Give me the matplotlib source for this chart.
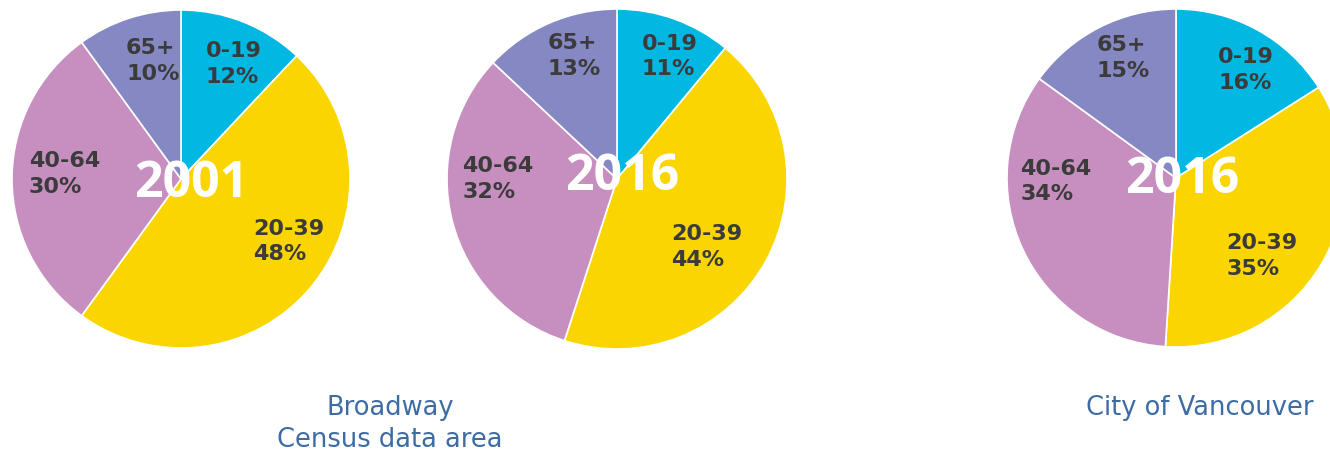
import matplotlib
matplotlib.use("Agg")
import matplotlib.pyplot as plt

# data
age_groups = ["0-19", "20-39", "40-64", "65+"]
broadway_2001 = [12, 48, 30, 10]
broadway_2016 = [11, 44, 32, 13]
vancouver_2016 = [16, 35, 34, 15]
years = ["2001", "2016", "2016"]
captions = ["Broadway\nCensus data area", "City of Vancouver"]

colors = ["#00B8E1", "#FAD500", "#C78FC0", "#8588C3"]
label_color = "#3B3B3B"
caption_color = "#3D6CA5"

W, H = 1330, 454
fig = plt.figure(figsize=(W / 100, H / 100), dpi=100)
fig.patch.set_facecolor("white")

# layout (pixels): pie centre and radius, label left/centre offsets in radius units
pies = [
    dict(values=broadway_2001, cx=181, cy=179, r=169,
         labels=[(0.145, 0.68), (0.425, -0.37), (-0.90, 0.03), (-0.325, 0.70)],
         year_pos=(0.06, -0.03)),
    dict(values=broadway_2016, cx=617, cy=179, r=170,
         labels=[(0.145, 0.72), (0.32, -0.40), (-0.91, 0.0), (-0.41, 0.725)],
         year_pos=(0.03, 0.01)),
    dict(values=vancouver_2016, cx=1176, cy=178, r=169,
         labels=[(0.25, 0.64), (0.30, -0.46), (-0.92, -0.02), (-0.47, 0.71)],
         year_pos=(0.035, -0.01)),
]

for p, year in zip(pies, years):
    r = p["r"]
    ax = fig.add_axes([(p["cx"] - r) / W, (H - p["cy"] - r) / H, 2 * r / W, 2 * r / H])
    ax.pie(p["values"], colors=colors, startangle=90, counterclock=False, radius=1,
           wedgeprops=dict(edgecolor="white", linewidth=1.2))
    ax.set_xlim(-1, 1)
    ax.set_ylim(-1, 1)
    ax.set_aspect("equal")
    ax.axis("off")
    for name, val, (lx, ly) in zip(age_groups, p["values"], p["labels"]):
        ax.text(lx, ly, f"{name}\n{val}%", ha="left", va="center", multialignment="left",
                fontsize=16, fontweight="bold", color=label_color, family="DejaVu Sans",
                linespacing=1.35)
    ax.text(p["year_pos"][0], p["year_pos"][1], year, ha="center", va="center",
            fontsize=36, fontweight="bold", color="white", family="Open Sans")

fig.text(390 / W, 1 - 424 / H, captions[0], ha="center", va="center", fontsize=18.5,
         color=caption_color, family="DejaVu Sans", linespacing=1.3)
fig.text(1200 / W, 1 - 408 / H, captions[1], ha="center", va="center", fontsize=18.5,
         color=caption_color, family="DejaVu Sans")

fig.savefig("out.png", dpi=100)
